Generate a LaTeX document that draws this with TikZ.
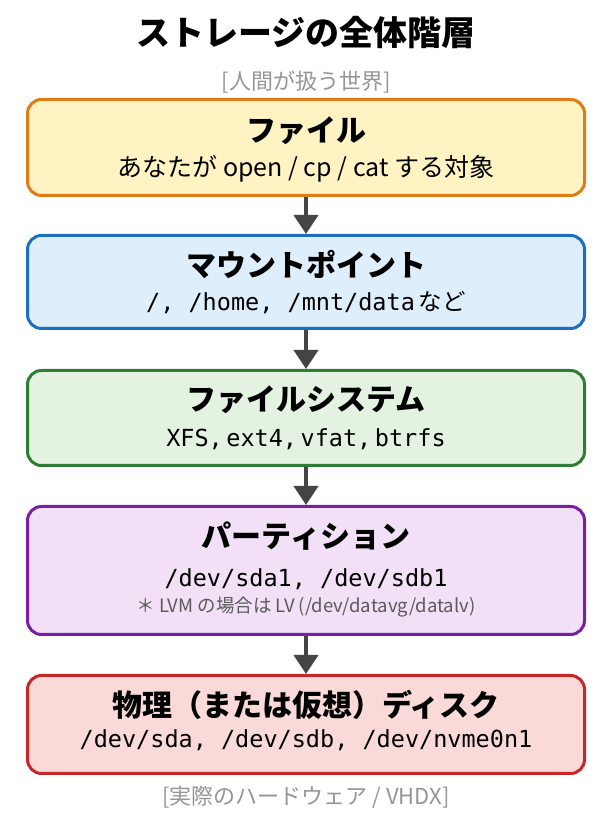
\documentclass[tikz,border=0pt]{standalone}
\usepackage{fontspec}
\setmainfont{Noto Sans CJK JP}
\newfontfamily\codefont{DejaVu Sans Mono}
\newcommand\codeface{\codefont\spaceskip=0.602em\relax}
\usetikzlibrary{arrows.meta}
\definecolor{fileline}{RGB}{224,124,20}
\definecolor{filefill}{RGB}{255,243,196}
\definecolor{mountline}{RGB}{27,110,194}
\definecolor{mountfill}{RGB}{222,238,251}
\definecolor{fsline}{RGB}{46,125,50}
\definecolor{fsfill}{RGB}{227,242,225}
\definecolor{partline}{RGB}{123,31,162}
\definecolor{partfill}{RGB}{242,224,246}
\definecolor{diskline}{RGB}{198,40,40}
\definecolor{diskfill}{RGB}{250,218,216}
\definecolor{arrowgray}{RGB}{68,68,68}
\definecolor{sidegray}{RGB}{150,150,150}
\definecolor{notegray}{RGB}{90,90,90}

\begin{document}
\begin{tikzpicture}[x=1pt,y=1pt,
    layer/.style={draw,rectangle,rounded corners=14pt,line width=3pt,
                  minimum width=557pt,inner sep=0pt},
    head/.style={anchor=base,font=\fontsize{30}{36}\selectfont\bfseries},
    sub/.style={anchor=base,font=\fontsize{25}{30}\selectfont},
    code/.style={anchor=base,font=\fontsize{23.5}{28}\selectfont\codeface},
    side/.style={anchor=base,text=sidegray,font=\fontsize{22}{26}\selectfont},
    down/.style={draw=arrowgray,fill=arrowgray,line width=4pt,
                 -{Triangle[width=24pt,length=19pt]}}]
    \useasboundingbox (0,0) rectangle (612,819);
    \fill[white] (0,0) rectangle (612,819);
    \node[anchor=base,font=\fontsize{34}{40}\selectfont\bfseries] (title) at (306,773) {ストレージの全体階層};
    \node[side] (human) at (306,729) {[人間が扱う世界]};
    \node[layer,draw=fileline,fill=filefill,minimum height=96pt] (file) at (306,671.5) {};
    \node[layer,draw=mountline,fill=mountfill,minimum height=93pt] (mount) at (306,537) {};
    \node[layer,draw=fsline,fill=fsfill,minimum height=95pt] (fs) at (306,401) {};
    \node[layer,draw=partline,fill=partfill,minimum height=128pt] (part) at (306,248.5) {};
    \node[layer,draw=diskline,fill=diskfill,minimum height=98pt] (disk) at (306,94.5) {};
    \node[head] (fileh) at (306,677.5) {ファイル};
    \node[sub] (files) at (306,642.5) {あなたが open / cp / cat する対象};
    \node[head] (mounth) at (306,542.5) {マウントポイント};
    \node[code] (mounts) at (306,508) {/, /home, /mnt/data\,{\rmfamily など}};
    \node[head] (fsh) at (306,408.5) {ファイルシステム};
    \node[code] (fss) at (306,372) {\spaceskip=0.15em XFS, ext4, vfat, btrfs};
    \node[head] (parth) at (306,271) {パーティション};
    \node[code] (parts) at (306,232) {/dev/sda1, /dev/sdb1};
    \node[anchor=base,text=notegray,font=\fontsize{18.5}{22}\selectfont] (partn) at (306,206) {＊ LVM の場合は LV (/dev/datavg/datalv)};
    \node[head] (diskh) at (306,102) {物理（または仮想）ディスク};
    \node[code] (disks) at (306,71) {/dev/sda, /dev/sdb, /dev/nvme0n1};
    \node[side] (hard) at (306,14) {[実際のハードウェア / VHDX]};
    \draw[down] (file) -- (mount);
    \draw[down] (mount) -- (fs);
    \draw[down] (fs) -- (part);
    \draw[down] (part) -- (disk);
\end{tikzpicture}
\end{document}
